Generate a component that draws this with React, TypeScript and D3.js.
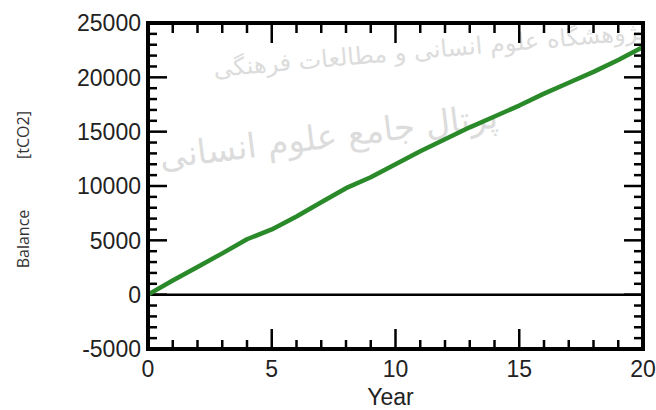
import * as d3 from 'd3';

// Data
const years = [0, 1, 2, 3, 4, 5, 6, 7, 8, 9, 10, 11, 12, 13, 14, 15, 16, 17, 18, 19, 20];
const balance = [0, 1300, 2550, 3800, 5100, 6000, 7200, 8500, 9800, 10800, 12000,
  13200, 14300, 15400, 16400, 17400, 18500, 19500, 20500, 21600, 22800];
const xTicks = [0, 5, 10, 15, 20];
const yTicks = [-5000, 0, 5000, 10000, 15000, 20000, 25000];
const watermark = ['پژوهشگاه علوم انسانی و مطالعات فرهنگی', 'پرتال جامع علوم انسانی'];

const W = 656;
const H = 410;
const margin = { top: 23, right: 13, bottom: 61, left: 148 };

export default function App() {
  const x = d3.scaleLinear().domain([0, 20]).range([margin.left, W - margin.right]);
  const y = d3.scaleLinear().domain([-5000, 25000]).range([H - margin.bottom, margin.top]);
  const [x0, x1] = x.range();
  const [yb, yt] = y.range();

  const line = d3.line<number>()
    .x((_, i) => x(years[i]))
    .y(d => y(d));

  const xMinor = d3.range(0, 21, 1);
  const yMinor = d3.range(-5000, 25001, 1000);
  const font = 'Liberation Sans, Arial, sans-serif';

  return (
    <svg width={W} height={H} style={{ position: 'absolute', left: 0, top: 0, background: '#fff' }}>
      {/* faint watermark */}
      <g fill="#dcdcdc" fontFamily="DejaVu Sans">
        <text x={430} y={58} fontSize={24} textAnchor="middle" transform="rotate(-5 430 58)">{watermark[0]}</text>
        <text x={330} y={148} fontSize={34} textAnchor="middle" transform="rotate(-7 330 148)">{watermark[1]}</text>
      </g>

      {/* ticks bottom/top */}
      <g stroke="#000" strokeWidth={2.5}>
        {xMinor.map(t => {
          const major = t % 5 === 0;
          return (
            <g key={'x' + t}>
              <line x1={x(t)} x2={x(t)} y1={yb} y2={yb - (major ? 20 : 9)} />
              <line x1={x(t)} x2={x(t)} y1={yt} y2={yt + (major ? 20 : 10)} />
            </g>
          );
        })}
        {yMinor.map(v => {
          const major = v % 5000 === 0;
          return (
            <g key={'y' + v}>
              <line x1={x0} x2={x0 + (major ? 19 : 9)} y1={y(v)} y2={y(v)} />
              <line x1={x1} x2={x1 - (major ? 19 : 9)} y1={y(v)} y2={y(v)} />
            </g>
          );
        })}
      </g>

      {/* zero line */}
      <line x1={x0} x2={x1} y1={y(0)} y2={y(0)} stroke="#000" strokeWidth={2.5} />

      {/* series */}
      <path d={line(balance) || ''} fill="none" stroke="#2a8a2a" strokeWidth={4.5} strokeLinejoin="round" />

      {/* frame */}
      <rect x={x0} y={yt} width={x1 - x0} height={yb - yt} fill="none" stroke="#000" strokeWidth={4} />

      {/* tick labels */}
      <g fontFamily={font} fontSize={23} fill="#222">
        {yTicks.map(v => (
          <text key={'yl' + v} x={x0 - 7} y={y(v)} dy="0.36em" textAnchor="end">{v}</text>
        ))}
        {xTicks.map(t => (
          <text key={'xl' + t} x={x(t)} y={yb + 28} textAnchor="middle">{t}</text>
        ))}
        <text x={(x0 + x1) / 2 - 5} y={H - 5} textAnchor="middle">Year</text>
      </g>

      {/* y axis label */}
      <g fontFamily="Open Sans, sans-serif" fontSize={16} fill="#333">
        <text transform="translate(29,239) rotate(-90)" textAnchor="middle">Balance</text>
        <text transform="translate(29,135) rotate(-90)" textAnchor="middle">[tCO2]</text>
      </g>
    </svg>
  );
}
